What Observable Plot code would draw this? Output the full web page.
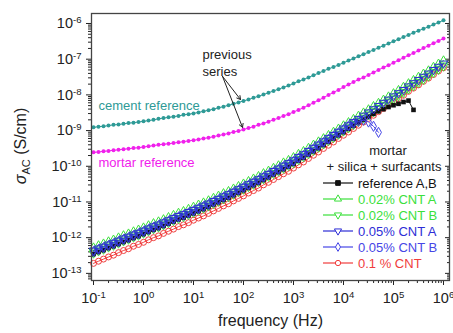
<!DOCTYPE html>
<html><head><meta charset="utf-8">
<script src="https://cdn.jsdelivr.net/npm/d3@7"></script>
<script src="https://cdn.jsdelivr.net/npm/@observablehq/plot@0.6"></script>
<style>
body{margin:0;background:#fff;}
#chart{position:relative;width:453px;height:333px;overflow:hidden;}
</style></head><body><div id="chart"></div>
<script>
// frequency grid (log10 Hz)
const logF = [-1,-0.9,-0.8,-0.7,-0.6,-0.5,-0.4,-0.3,-0.2,-0.1,
0,0.1,0.2,0.3,0.4,0.5,0.6,0.7,0.8,0.9,
1,1.1,1.2,1.3,1.4,1.5,1.6,1.7,1.8,1.9,
2,2.1,2.2,2.3,2.4,2.5,2.6,2.7,2.8,2.9,
3,3.1,3.2,3.3,3.4,3.5,3.6,3.7,3.8,3.9,
4,4.1,4.2,4.3,4.4,4.5,4.6,4.7,4.8,4.9,
5,5.1,5.2,5.3,5.4,5.5,5.6,5.7,5.8,5.9,
6];

// log10 sigma_AC (S/cm)
const cementLog = [-8.91,-8.89,-8.88,-8.86,-8.84,-8.83,-8.81,-8.79,-8.78,-8.76,
-8.74,-8.72,-8.70,-8.67,-8.65,-8.63,-8.61,-8.59,-8.56,-8.54,
-8.52,-8.49,-8.46,-8.43,-8.40,-8.36,-8.33,-8.29,-8.25,-8.21,
-8.17,-8.13,-8.08,-8.04,-7.99,-7.94,-7.89,-7.84,-7.79,-7.74,
-7.68,-7.62,-7.57,-7.51,-7.45,-7.39,-7.33,-7.27,-7.22,-7.16,
-7.10,-7.04,-6.98,-6.92,-6.86,-6.80,-6.74,-6.68,-6.62,-6.56,
-6.50,-6.44,-6.38,-6.32,-6.26,-6.20,-6.15,-6.09,-6.03,-5.97,
-5.91];
const mortarLog = [-9.61,-9.60,-9.58,-9.57,-9.55,-9.54,-9.52,-9.51,-9.49,-9.48,
-9.46,-9.44,-9.42,-9.40,-9.38,-9.37,-9.35,-9.33,-9.31,-9.29,
-9.27,-9.25,-9.22,-9.20,-9.17,-9.14,-9.11,-9.08,-9.04,-9.01,
-8.97,-8.93,-8.89,-8.84,-8.80,-8.75,-8.70,-8.65,-8.59,-8.54,
-8.48,-8.42,-8.36,-8.29,-8.22,-8.15,-8.08,-8.00,-7.93,-7.86,
-7.78,-7.71,-7.64,-7.57,-7.51,-7.44,-7.37,-7.30,-7.23,-7.17,
-7.10,-7.03,-6.96,-6.89,-6.83,-6.76,-6.69,-6.62,-6.55,-6.49,
-6.42];
const refABLog = [-12.46,-12.40,-12.35,-12.29,-12.24,-12.18,-12.12,-12.07,-12.01,-11.96,
-11.90,-11.84,-11.78,-11.73,-11.67,-11.61,-11.55,-11.49,-11.44,-11.38,
-11.32,-11.26,-11.20,-11.14,-11.07,-11.01,-10.94,-10.88,-10.81,-10.74,
-10.67,-10.60,-10.53,-10.46,-10.38,-10.31,-10.23,-10.16,-10.08,-10.01,
-9.93,-9.84,-9.76,-9.67,-9.58,-9.49,-9.40,-9.31,-9.22,-9.13,
-9.04,-8.95,-8.86,-8.77,-8.69,-8.61,-8.53,-8.46,-8.40,-8.34,
-8.29,-8.25,-8.20,-8.16,-8.42];
const cnt002ALog = [-12.28,-12.22,-12.17,-12.11,-12.06,-12.00,-11.94,-11.89,-11.83,-11.78,
-11.72,-11.66,-11.60,-11.55,-11.49,-11.43,-11.37,-11.31,-11.26,-11.20,
-11.14,-11.08,-11.02,-10.96,-10.89,-10.83,-10.76,-10.70,-10.63,-10.56,
-10.49,-10.42,-10.35,-10.28,-10.20,-10.13,-10.05,-9.98,-9.90,-9.83,
-9.75,-9.66,-9.58,-9.49,-9.40,-9.31,-9.22,-9.13,-9.04,-8.95,
-8.86,-8.77,-8.68,-8.59,-8.50,-8.41,-8.32,-8.23,-8.14,-8.05,
-7.96,-7.87,-7.78,-7.68,-7.59,-7.50,-7.41,-7.32,-7.22,-7.13,
-7.04];
const cnt002BLog = [-12.44,-12.38,-12.33,-12.27,-12.22,-12.16,-12.10,-12.05,-11.99,-11.94,
-11.88,-11.82,-11.76,-11.71,-11.65,-11.59,-11.53,-11.47,-11.42,-11.36,
-11.30,-11.24,-11.18,-11.12,-11.05,-10.99,-10.92,-10.86,-10.79,-10.72,
-10.65,-10.58,-10.51,-10.44,-10.36,-10.29,-10.21,-10.14,-10.06,-9.99,
-9.91,-9.82,-9.74,-9.65,-9.56,-9.47,-9.38,-9.29,-9.20,-9.11,
-9.02,-8.93,-8.84,-8.75,-8.66,-8.57,-8.48,-8.39,-8.30,-8.21,
-8.12,-8.03,-7.94,-7.84,-7.75,-7.66,-7.57,-7.48,-7.38,-7.29,
-7.20];
const cnt005ALog = [-12.36,-12.30,-12.25,-12.19,-12.14,-12.08,-12.02,-11.97,-11.91,-11.86,
-11.80,-11.74,-11.68,-11.63,-11.57,-11.51,-11.45,-11.39,-11.34,-11.28,
-11.22,-11.16,-11.10,-11.04,-10.97,-10.91,-10.84,-10.78,-10.71,-10.64,
-10.57,-10.50,-10.43,-10.36,-10.28,-10.21,-10.13,-10.06,-9.98,-9.91,
-9.83,-9.74,-9.66,-9.57,-9.48,-9.39,-9.30,-9.21,-9.12,-9.03,
-8.94,-8.85,-8.76,-8.67,-8.58,-8.49,-8.40,-8.31,-8.22,-8.13,
-8.04,-7.95,-7.86,-7.76,-7.67,-7.58,-7.49,-7.40,-7.30,-7.21,
-7.12];
const cnt005BLog = [-12.39,-12.33,-12.28,-12.22,-12.17,-12.11,-12.05,-12.00,-11.94,-11.89,
-11.83,-11.77,-11.71,-11.66,-11.60,-11.54,-11.48,-11.42,-11.37,-11.31,
-11.25,-11.19,-11.13,-11.07,-11.00,-10.94,-10.87,-10.81,-10.74,-10.67,
-10.60,-10.53,-10.46,-10.39,-10.31,-10.24,-10.16,-10.09,-10.01,-9.94,
-9.86,-9.77,-9.69,-9.60,-9.51,-9.42,-9.33,-9.24,-9.15,-9.06,
-8.97,-8.87,-8.80,-8.74,-8.71,-8.76,-8.88,-9.05];
const cnt01Log = [-12.72,-12.66,-12.60,-12.54,-12.49,-12.42,-12.36,-12.31,-12.24,-12.19,
-12.13,-12.06,-12.00,-11.95,-11.88,-11.82,-11.76,-11.69,-11.64,-11.58,
-11.51,-11.45,-11.39,-11.32,-11.25,-11.18,-11.11,-11.05,-10.97,-10.90,
-10.83,-10.75,-10.68,-10.61,-10.52,-10.45,-10.37,-10.29,-10.21,-10.14,
-10.05,-9.96,-9.88,-9.78,-9.69,-9.60,-9.50,-9.41,-9.32,-9.22,
-9.13,-9.04,-8.94,-8.85,-8.76,-8.66,-8.57,-8.47,-8.38,-8.29,
-8.19,-8.10,-8.01,-7.90,-7.81,-7.72,-7.62,-7.53,-7.43,-7.33,
-7.24];

const seriesNames = ["cement reference","mortar reference","reference A,B","0.02% CNT A","0.02% CNT B","0.05% CNT A","0.05% CNT B","0.1 % CNT"];
const xTicks = [1e-1,1e0,1e1,1e2,1e3,1e4,1e5,1e6];
const xTickExp = ["-1","0","1","2","3","4","5","6"];
const yTicks = [1e-13,1e-12,1e-11,1e-10,1e-9,1e-8,1e-7,1e-6];
const yTickExp = ["-13","-12","-11","-10","-9","-8","-7","-6"];
const legendTitle = ["mortar","+ silica + surfacants"];
const xLabel = "frequency (Hz)";

// ---- styling ----
const triDown = {
  draw(context, size) {
    const y = -Math.sqrt(size / (Math.sqrt(3) * 3));
    context.moveTo(0, -y * 2);
    context.lineTo(-Math.sqrt(3) * y, y);
    context.lineTo(Math.sqrt(3) * y, y);
    context.closePath();
  }
};
const teal = "#2e9a96", magenta = "#f020ec", green = "#3be03b", blue = "#2d2dd6", blue2 = "#4646e6", red = "#f03c3c", black = "#111";
const styles = {
  "cement reference": {vals: cementLog, color: teal, symbol: "circle", filled: true, r: 2},
  "mortar reference": {vals: mortarLog, color: magenta, symbol: "circle", filled: true, r: 2},
  "reference A,B": {vals: refABLog, color: black, symbol: "square", filled: true, r: 2.6},
  "0.02% CNT A": {vals: cnt002ALog, color: green, symbol: "triangle", filled: false, r: 3.1},
  "0.02% CNT B": {vals: cnt002BLog, color: green, symbol: triDown, filled: false, r: 3.1},
  "0.05% CNT A": {vals: cnt005ALog, color: blue, symbol: triDown, filled: false, r: 3.1},
  "0.05% CNT B": {vals: cnt005BLog, color: blue2, symbol: "diamond", filled: false, r: 3.1},
  "0.1 % CNT": {vals: cnt01Log, color: red, symbol: "circle", filled: false, r: 3}
};
const drawOrder = ["cement reference","mortar reference","0.1 % CNT","0.02% CNT B","reference A,B","0.02% CNT A","0.05% CNT B","0.05% CNT A"];

const marks = [];
for (const name of drawOrder) {
  const s = styles[name];
  const data = s.vals.map((v, i) => ({f: 10 ** logF[i], s: 10 ** v}));
  marks.push(Plot.line(data, {x: "f", y: "s", stroke: s.color, strokeWidth: 1}));
  marks.push(Plot.dot(data, {x: "f", y: "s", symbol: s.symbol, r: s.r,
    fill: s.filled ? s.color : "none", stroke: s.filled ? "none" : s.color, strokeWidth: 1}));
}

const xDomain = [10 ** -1.04, 10 ** 6.12];
const yDomain = [10 ** -13.2, 10 ** -5.72];
const xMinor = d3.scaleLog().domain([1e-2, 1e7]).ticks().filter(t => t >= xDomain[0] && t <= xDomain[1] && !xTicks.some(m => Math.abs(m - t) / m < 1e-9));
const yMinor = d3.scaleLog().domain([1e-14, 1e-5]).ticks().filter(t => t >= yDomain[0] && t <= yDomain[1] && !yTicks.some(m => Math.abs(m - t) / m < 1e-9));

// annotations (data space)
const arrows = [
  {x1: 10 ** 1.58, y1: 10 ** -7.48, x2: 10 ** 1.94, y2: 10 ** -8.13},
  {x1: 10 ** 1.58, y1: 10 ** -7.48, x2: 10 ** 1.98, y2: 10 ** -8.91}
];

const plot = Plot.plot({
  width: 453, height: 333,
  marginLeft: 91, marginRight: 4, marginTop: 13, marginBottom: 53,
  style: {fontFamily: "'Liberation Sans', Arial, sans-serif", fontSize: "14.5px", color: "#222", background: "#fff"},
  x: {type: "log", domain: xDomain},
  y: {type: "log", domain: yDomain},
  marks: [
    Plot.axisX(xTicks, {anchor: "bottom", tickSize: 5, tickPadding: 7, tickFormat: d => "10^" + xTickExp[xTicks.indexOf(d)], label: null, fontSize: 14.5}),
    Plot.axisX(xMinor, {anchor: "bottom", tickSize: 3, tickFormat: () => "", label: null}),
    Plot.axisY(yTicks, {anchor: "left", tickSize: 5, tickPadding: 5, tickFormat: d => "10^" + yTickExp[yTicks.indexOf(d)], label: null, fontSize: 14.5}),
    Plot.axisY(yMinor, {anchor: "left", tickSize: 3, tickFormat: () => "", label: null}),
    Plot.axisY(yTicks, {anchor: "right", tickSize: -5, tickFormat: () => "", label: null}),
    Plot.axisY(yMinor, {anchor: "right", tickSize: -3, tickFormat: () => "", label: null}),
    ...marks,
    Plot.arrow(arrows, {x1: "x1", y1: "y1", x2: "x2", y2: "y2", stroke: "#222", strokeWidth: 1, headLength: 6}),
    Plot.text(["previous\nseries"], {x: 10 ** 1.18, y: 10 ** -7.08, text: d => d, textAnchor: "start", fontSize: 13, lineHeight: 1.3, fill: "#222"}),
    Plot.text([seriesNames[0]], {x: 10 ** -0.9, y: 10 ** -8.3, text: d => d, textAnchor: "start", fontSize: 13, fill: teal}),
    Plot.text([seriesNames[1]], {x: 10 ** -0.9, y: 10 ** -9.89, text: d => d, textAnchor: "start", fontSize: 13, fill: magenta}),
    Plot.text([xLabel], {frameAnchor: "bottom", dy: 45, text: d => d, fontSize: 16, fill: "#222"}),
    Plot.frame({stroke: "#444", strokeWidth: 1.3})
  ]
});
document.getElementById("chart").appendChild(plot);

const svg = d3.select(plot);
// turn "10^e" tick labels into 10 with a raised exponent
svg.selectAll("text").each(function () {
  const m = /^10\^(-?\d+)$/.exec(this.textContent);
  if (!m) return;
  const t = d3.select(this);
  t.text("10");
  t.append("tspan").attr("dy", "-0.5em").attr("font-size", "0.66em").text(m[1]);
});

// y-axis label with subscript
const yl = svg.append("text")
  .attr("transform", "translate(26,146) rotate(-90)")
  .attr("text-anchor", "middle")
  .attr("font-family", "'Liberation Sans', Arial, sans-serif")
  .attr("font-size", 16).attr("fill", "#222");
yl.append("tspan").attr("font-style", "italic").text("σ");
yl.append("tspan").attr("font-size", 11).attr("dy", 4).text("AC");
yl.append("tspan").attr("dy", -4).text(" (S/cm)");

// legend
const lg = svg.append("g").attr("font-family", "'Liberation Sans', Arial, sans-serif").attr("font-size", 13).attr("text-anchor", "start");
lg.append("text").attr("x", 388).attr("y", 154.5).attr("text-anchor", "middle").attr("fill", "#222").text(legendTitle[0]);
lg.append("text").attr("x", 384).attr("y", 170.5).attr("text-anchor", "middle").attr("fill", "#222").text(legendTitle[1]);
const legendNames = seriesNames.slice(2);
const legendText = {"reference A,B": black, "0.02% CNT A": green, "0.02% CNT B": green, "0.05% CNT A": blue, "0.05% CNT B": blue2, "0.1 % CNT": red};
legendNames.forEach((name, k) => {
  const s = styles[name];
  const y = 183 + k * 16;
  lg.append("line").attr("x1", 323).attr("x2", 353).attr("y1", y).attr("y2", y).attr("stroke", s.color).attr("stroke-width", 1.2);
  const symType = typeof s.symbol === "string" ? {circle: d3.symbolCircle, square: d3.symbolSquare, triangle: d3.symbolTriangle, diamond: d3.symbolDiamond}[s.symbol] : s.symbol;
  lg.append("path").attr("d", d3.symbol(symType, 22)()).attr("transform", `translate(338,${y})`)
    .attr("fill", s.filled ? s.color : "#fff").attr("stroke", s.color).attr("stroke-width", 1);
  lg.append("text").attr("x", 358).attr("y", y + 4.5).attr("text-anchor", "start").attr("fill", legendText[name]).text(name);
});
</script>
</body></html>
